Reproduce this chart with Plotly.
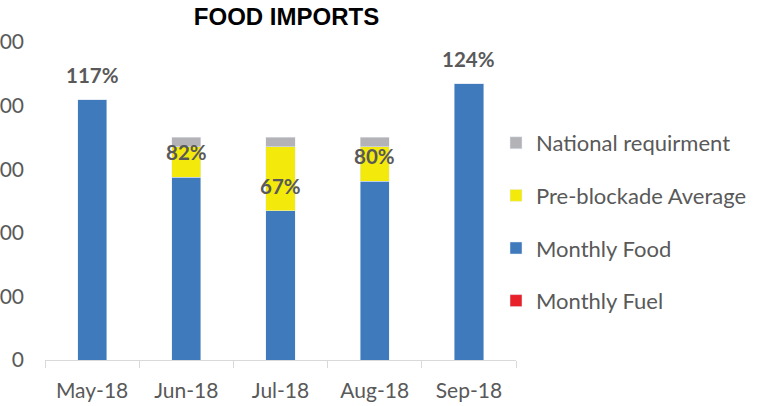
import plotly.graph_objects as go

# ---- data ----
months = ["May-18", "Jun-18", "Jul-18", "Aug-18", "Sep-18"]
monthly_food = [409, 287, 235, 281, 434]
pre_blockade_avg = [335, 335, 335, 335, 335]
national_requirement = [350, 350, 350, 350, 350]
monthly_fuel = [None, None, None, None, None]
pct_labels = ["117%", "82%", "67%", "80%", "124%"]
y_ticks = [0, 100, 200, 300, 400, 500]

# stacked segments derived from the data
yellow_seg = [max(a - f, 0) for f, a in zip(monthly_food, pre_blockade_avg)]
gray_seg = [max(r - max(f, a), 0) for f, a, r in zip(monthly_food, pre_blockade_avg, national_requirement)]

BLUE = "#3F7ABD"
YELLOW = "#F3EA0C"
GRAY = "#B3B3B7"
RED = "#E8202A"
TXT = "#595959"
FONT = "Lato"

fig = go.Figure()
fig.add_trace(go.Bar(x=months, y=monthly_food, name="Monthly Food", marker_color=BLUE,
                     legendgroup="food", legendrank=3))
fig.add_trace(go.Bar(x=months, y=yellow_seg, name="Pre-blockade Average", marker_color=YELLOW,
                     legendgroup="pre", legendrank=2))
fig.add_trace(go.Bar(x=months, y=gray_seg, name="National requirment", marker_color=GRAY,
                     legendgroup="nat", legendrank=1))
fig.add_trace(go.Bar(x=months, y=monthly_fuel, name="Monthly Fuel", marker_color=RED,
                     legendgroup="fuel", legendrank=4))

for m, f, lab in zip(months, monthly_food, pct_labels):
    fig.add_annotation(x=m, y=f, text="<b>" + lab + "</b>", showarrow=False,
                       yanchor="middle", yshift=25,
                       font=dict(family=FONT, size=20.5, color=TXT))

fig.update_layout(
    width=765, height=406,
    margin=dict(l=45, r=249, t=42, b=46, autoexpand=False),
    barmode="stack", bargap=0.69,
    plot_bgcolor="white", paper_bgcolor="white",
    title=dict(text="<b>FOOD IMPORTS</b>", x=286.5 / 765, xanchor="center",
               y=1 - 17 / 406, yanchor="middle", yref="container",
               font=dict(family="Liberation Sans", size=24, color="#000000")),
    legend=dict(x=1 - 20 / 471, xanchor="left", y=0.434, yanchor="middle",
                traceorder="grouped", tracegroupgap=21,
                font=dict(family=FONT, size=22, color=TXT),
                bgcolor="rgba(0,0,0,0)"),
    showlegend=True,
)
fig.update_xaxes(showline=True, linecolor="#D9D9D9", linewidth=1,
                 ticks="outside", tickson="boundaries", ticklen=7, tickcolor="#D9D9D9",
                 ticklabelstandoff=12,
                 tickfont=dict(family=FONT, size=21, color=TXT), automargin=False,
                 showgrid=False)
fig.update_yaxes(range=[0, 500], tickvals=y_ticks, showgrid=False, zeroline=False,
                 showline=False, ticks="", ticklabelstandoff=20,
                 tickfont=dict(family=FONT, size=21, color=TXT), automargin=False)

fig.write_html("out.html", config={"displayModeBar": False},
               post_script="document.body.style.margin='0';")
